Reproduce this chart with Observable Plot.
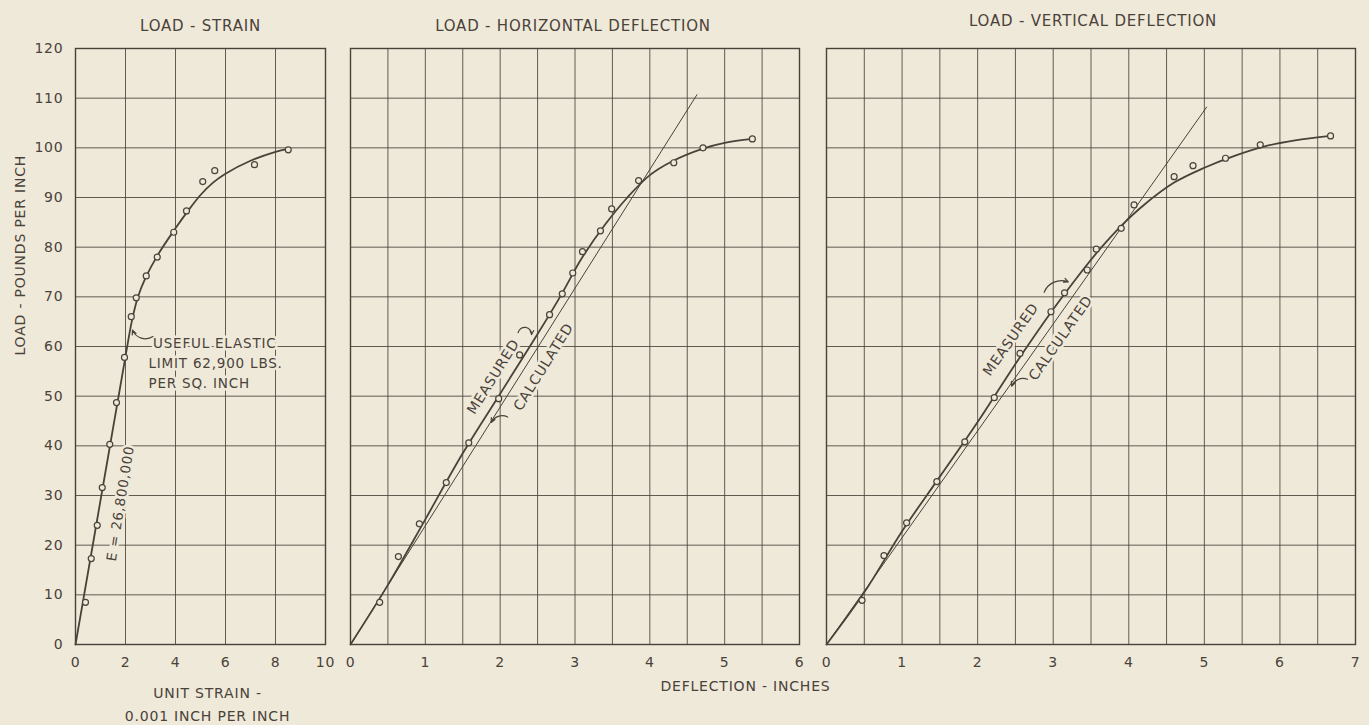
<!DOCTYPE html>
<html><head><meta charset="utf-8">
<script src="https://cdn.jsdelivr.net/npm/d3@7"></script>
<script src="https://cdn.jsdelivr.net/npm/@observablehq/plot@0.6"></script>
<style>
body{margin:0;background:#efe9da;}
#wrap{position:relative;width:1369px;height:725px;overflow:hidden;background:#efe9da;}
#wrap svg{position:absolute;left:0;top:0;}
</style></head>
<body><div id="wrap"></div>
<script>
// ---------- data ----------
const titles = ["LOAD - STRAIN", "LOAD - HORIZONTAL DEFLECTION", "LOAD - VERTICAL DEFLECTION"];
const yLabel = "LOAD - POUNDS PER INCH";
const xLabelStrain = "UNIT STRAIN -\n0.001 INCH PER INCH";
const xLabelDefl = "DEFLECTION - INCHES";

const loadTicks = [0,10,20,30,40,50,60,70,80,90,100,110,120];
const strainTicks = [0,2,4,6,8,10];
const hDeflTicks = [0,1,2,3,4,5,6];
const hDeflGrid = [0,0.5,1,1.5,2,2.5,3,3.5,4,4.5,5,5.5,6];
const vDeflTicks = [0,1,2,3,4,5,6,7];
const vDeflGrid = [0,0.5,1,1.5,2,2.5,3,3.5,4,4.5,5,5.5,6,6.5,7];

// Load - strain: measured points
const strainPtX = [0.4,0.63,0.87,1.07,1.37,1.64,1.96,2.23,2.43,2.83,3.27,3.93,4.44,5.09,5.57,7.16,8.51];
const strainPtY = [8.5,17.3,24,31.6,40.3,48.7,57.8,66,69.8,74.2,78,83,87.3,93.2,95.4,96.6,99.6];
// Load - strain: faired curve
const strainCurveX = [0,0.5,1,1.5,2,2.25,2.5,2.8,3.3,4,4.5,5,5.5,6,7,8,8.5];
const strainCurveY = [0,14.5,29,43.5,58,65,70,73.8,78.5,83.8,87.3,90.5,93,94.8,97.4,99.2,99.8];

// Load - horizontal deflection
const hPtX = [0.39,0.64,0.92,1.28,1.58,1.98,2.26,2.66,2.83,2.97,3.10,3.34,3.49,3.85,4.32,4.71,5.37];
const hPtY = [8.5,17.7,24.3,32.6,40.6,49.5,58.3,66.4,70.6,74.8,79.1,83.3,87.7,93.4,97,100,101.8];
const hCurveX = [0,0.5,1,1.5,2,2.5,2.8,3.1,3.4,3.7,4,4.3,4.7,5,5.37];
const hCurveY = [0,12,25.2,38.5,50.5,62.5,70,78,84.5,90,94.5,97.3,99.8,101,101.8];
const hCalcX = [0,4.63];
const hCalcY = [0,110.7];

// Load - vertical deflection
const vPtX = [0.47,0.76,1.06,1.46,1.83,2.22,2.56,2.97,3.15,3.45,3.57,3.90,4.07,4.60,4.85,5.28,5.74,6.67];
const vPtY = [8.9,17.9,24.5,32.8,40.8,49.7,58.6,67.0,70.8,75.4,79.6,83.8,88.5,94.2,96.4,97.9,100.6,102.4];
const vCurveX = [0,0.5,1,1.5,2,2.5,3,3.3,3.6,3.9,4.2,4.6,5,5.4,5.8,6.2,6.67];
const vCurveY = [0,10.5,22.8,33.8,44.8,56.5,67.5,73.6,79.3,84.3,88.5,93,96,98.4,100.3,101.5,102.4];
const vCalcX = [0,5.03];
const vCalcY = [0,108.2];

// annotations (data coordinates)
const eNote = [{x:1.8, y:28.4, text:"E = 26,800,000"}];
const elasticNotes = [
  {x:3.1, y:60.6, text:"USEFUL ELASTIC"},
  {x:2.92, y:56.5, text:"LIMIT 62,900 LBS."},
  {x:2.92, y:52.5, text:"PER SQ. INCH"}
];
const strainArrow = [{x1:3.1, y1:62.0, x2:2.28, y2:63.3}];
const hNotes = [
  {x:1.91, y:53.9, text:"MEASURED"},
  {x:2.58, y:55.9, text:"CALCULATED"}
];
const hMeasArrow = [{x1:2.24, y1:62.8, x2:2.42, y2:62.4}];
const hCalcArrow = [{x1:2.1, y1:45.8, x2:1.88, y2:44.7}];
const vNotes = [
  {x:2.44, y:61.4, text:"MEASURED"},
  {x:3.10, y:61.7, text:"CALCULATED"}
];
const vMeasArrow = [{x1:2.88, y1:70.9, x2:3.2, y2:73.0}];
const vCalcArrow = [{x1:2.66, y1:53.4, x2:2.45, y2:52.0}];

// ---------- helpers ----------
const INK = "#4a4239", BG = "#efe9da";
const FONT = "'DejaVu Sans', sans-serif";
const zip = (xs, ys) => xs.map((x, i) => ({x, y: ys[i]}));
const W = 1369, H = 725, MT = 48, MB = 81;

const baseStyle = {background:"transparent", color:INK, fontFamily:FONT, fontSize:"14px", letterSpacing:"0.8px", overflow:"visible"};

function gridMarks(xGrid) {
  return [
    Plot.ruleX(xGrid, {stroke:INK, strokeWidth:1, strokeOpacity:0.85}),
    Plot.ruleY(loadTicks, {stroke:INK, strokeWidth:1, strokeOpacity:0.85}),
    Plot.frame({stroke:INK, strokeWidth:1.4})
  ];
}
function arrow(data, bend) {
  return Plot.arrow(data, {x1:"x1", y1:"y1", x2:"x2", y2:"y2", bend, headLength:6, headAngle:50, stroke:INK, strokeWidth:1.2});
}

// ---------- panel 1 ----------
const p1 = Plot.plot({
  width:W, height:H, marginLeft:75, marginRight:W-325, marginTop:MT, marginBottom:MB,
  x:{domain:[0,10], axis:null}, y:{domain:[0,120], axis:null},
  style:baseStyle,
  marks:[
    ...gridMarks(strainTicks),
    Plot.axisX(strainTicks, {tickSize:0, tickPadding:13, label:null, fill:INK}),
    Plot.axisY(loadTicks, {tickSize:0, tickPadding:12, label:null, fill:INK}),
    Plot.text([titles[0]], {frameAnchor:"top", dy:-28, fontSize:15, fill:INK}),
    Plot.text([yLabel], {frameAnchor:"left", dx:-55, dy:9, rotate:-90, fontSize:14, fill:INK}),
    Plot.text([xLabelStrain], {frameAnchor:"bottom", dx:7, dy:37, lineAnchor:"top", lineHeight:1.65, fontSize:14, fill:INK}),
    Plot.text(eNote, {x:"x", y:"y", text:"text", rotate:-81, fontSize:13.5, fill:INK, stroke:BG, strokeWidth:5}),
    Plot.text(elasticNotes, {x:"x", y:"y", text:"text", textAnchor:"start", fontSize:13.5, fill:INK, stroke:BG, strokeWidth:5}),
    Plot.line(zip(strainCurveX, strainCurveY), {x:"x", y:"y", curve:"catmull-rom", stroke:INK, strokeWidth:1.8}),
    arrow(strainArrow, 50),
    Plot.dot(zip(strainPtX, strainPtY), {x:"x", y:"y", r:3, stroke:INK, fill:BG, strokeWidth:1.2})
  ]
});

// ---------- panel 2 ----------
const p2 = Plot.plot({
  width:W, height:H, marginLeft:350, marginRight:W-799, marginTop:MT, marginBottom:MB,
  x:{domain:[0,6], axis:null}, y:{domain:[0,120], axis:null},
  style:baseStyle,
  marks:[
    ...gridMarks(hDeflGrid),
    Plot.axisX(hDeflTicks, {tickSize:0, tickPadding:13, label:null, fill:INK}),
    Plot.text([titles[1]], {frameAnchor:"top", dy:-28, dx:-2, fontSize:15, fill:INK}),
    Plot.text([xLabelDefl], {frameAnchor:"bottom-right", dx:31, dy:46, fontSize:14, fill:INK}),
    Plot.text(hNotes, {x:"x", y:"y", text:"text", rotate:-58, fontSize:14, letterSpacing:"1.2px", fill:INK, stroke:BG, strokeWidth:5}),
    Plot.line(zip(hCalcX, hCalcY), {x:"x", y:"y", stroke:INK, strokeWidth:1}),
    Plot.line(zip(hCurveX, hCurveY), {x:"x", y:"y", curve:"catmull-rom", stroke:INK, strokeWidth:1.8}),
    arrow(hMeasArrow, 85),
    arrow(hCalcArrow, -45),
    Plot.dot(zip(hPtX, hPtY), {x:"x", y:"y", r:3, stroke:INK, fill:BG, strokeWidth:1.2})
  ]
});

// ---------- panel 3 ----------
const p3 = Plot.plot({
  width:W, height:H, marginLeft:826, marginRight:W-1355, marginTop:MT, marginBottom:MB,
  x:{domain:[0,7], axis:null}, y:{domain:[0,120], axis:null},
  style:baseStyle,
  marks:[
    ...gridMarks(vDeflGrid),
    Plot.axisX(vDeflTicks, {tickSize:0, tickPadding:13, label:null, fill:INK}),
    Plot.text([titles[2]], {frameAnchor:"top", dy:-33, dx:2, fontSize:15, fill:INK}),
    Plot.text(vNotes, {x:"x", y:"y", text:"text", rotate:-55, fontSize:14, letterSpacing:"1.2px", fill:INK, stroke:BG, strokeWidth:5}),
    Plot.line(zip(vCalcX, vCalcY), {x:"x", y:"y", stroke:INK, strokeWidth:1}),
    Plot.line(zip(vCurveX, vCurveY), {x:"x", y:"y", curve:"catmull-rom", stroke:INK, strokeWidth:1.8}),
    arrow(vMeasArrow, 45),
    arrow(vCalcArrow, -45),
    Plot.dot(zip(vPtX, vPtY), {x:"x", y:"y", r:3, stroke:INK, fill:BG, strokeWidth:1.2})
  ]
});

const wrap = document.getElementById("wrap");
wrap.append(p1, p2, p3);
</script>
</body></html>
